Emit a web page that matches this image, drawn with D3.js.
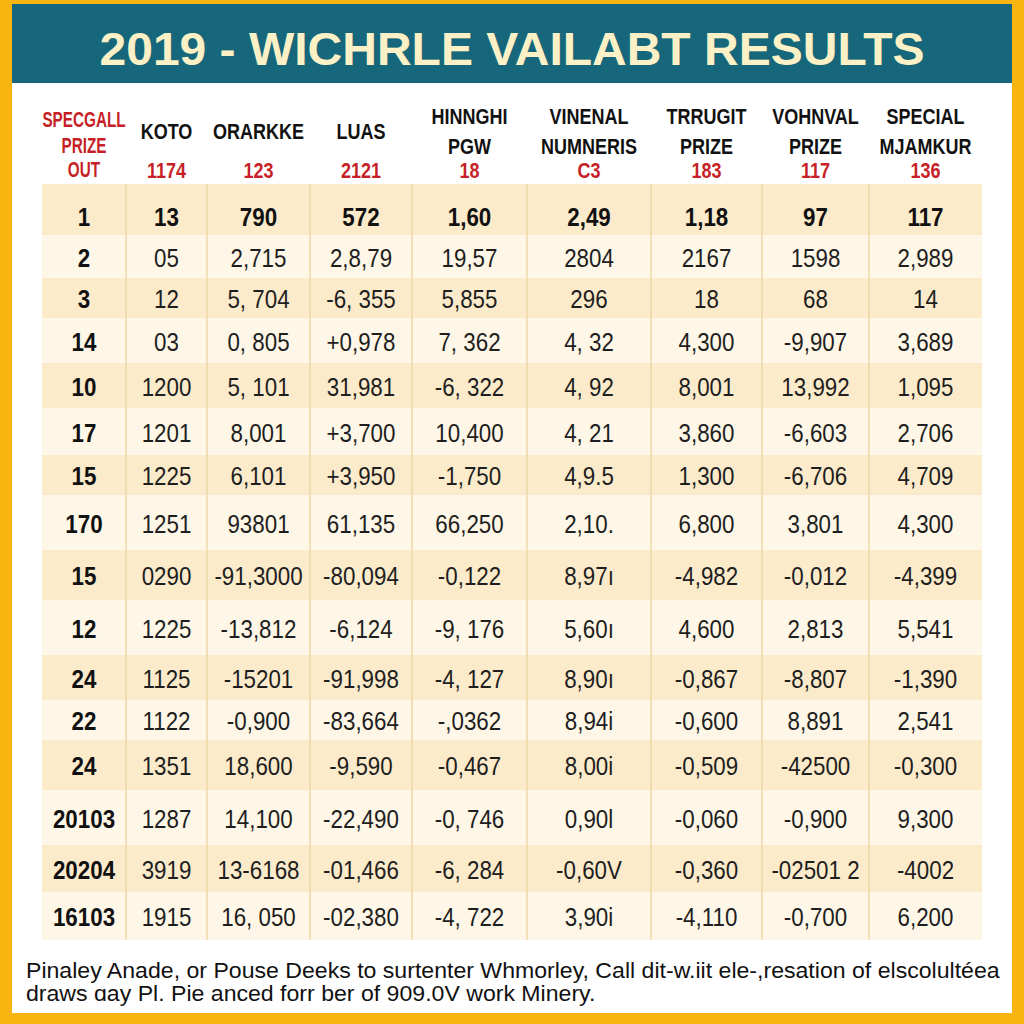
<!DOCTYPE html>
<html><head><meta charset="utf-8">
<script src="https://cdn.jsdelivr.net/npm/d3@7"></script>
<style>html,body{margin:0;padding:0;background:#fff}svg{display:block}</style>
</head><body>
<script>
// ---------- data ----------
const title = "2019 - WICHRLE VAILABT RESULTS";
const headerLines = [
  ["SPECGALL","PRIZE","OUT"],
  ["KOTO"],
  ["ORARKKE"],
  ["LUAS"],
  ["HINNGHI","PGW"],
  ["VINENAL","NUMNERIS"],
  ["TRRUGIT","PRIZE"],
  ["VOHNVAL","PRIZE"],
  ["SPECIAL","MJAMKUR"]
];
const headerCodes = ["", "1174", "123", "2121", "18", "C3", "183", "117", "136"];
const rowLabels = ["1","2","3","14","10","17","15","170","15","12","24","22","24","20103","20204","16103"];
const colKoto    = ["13","05","12","03","1200","1201","1225","1251","0290","1225","1125","1122","1351","1287","3919","1915"];
const colOrarkke = ["790","2,715","5, 704","0, 805","5, 101","8,001","6,101","93801","-91,3000","-13,812","-15201","-0,900","18,600","14,100","13-6168","16, 050"];
const colLuas    = ["572","2,8,79","-6, 355","+0,978","31,981","+3,700","+3,950","61,135","-80,094","-6,124","-91,998","-83,664","-9,590","-22,490","-01,466","-02,380"];
const colHinnghi = ["1,60","19,57","5,855","7, 362","-6, 322","10,400","-1,750","66,250","-0,122","-9, 176","-4, 127","-,0362","-0,467","-0, 746","-6, 284","-4, 722"];
const colVinenal = ["2,49","2804","296","4, 32","4, 92","4, 21","4,9.5","2,10.","8,97ı","5,60ı","8,90ı","8,94i","8,00i","0,90l","-0,60V","3,90i"];
const colTrrugit = ["1,18","2167","18","4,300","8,001","3,860","1,300","6,800","-4,982","4,600","-0,867","-0,600","-0,509","-0,060","-0,360","-4,110"];
const colVohnval = ["97","1598","68","-9,907","13,992","-6,603","-6,706","3,801","-0,012","2,813","-8,807","8,891","-42500","-0,900","-02501 2","-0,700"];
const colSpecial = ["117","2,989","14","3,689","1,095","2,706","4,709","4,300","-4,399","5,541","-1,390","2,541","-0,300","9,300","-4002","6,200"];
const footnote = [
  "Pinaley Anade, or Pouse Deeks to surtenter Whmorley, Call dit-w.iit ele-,resation of elscolultéea",
  "draws ɑay Pl. Pie anced forr ber of 909.0V work Minery."
];

// ---------- layout / style ----------
const W = 1024, H = 1024;
const colWeights = [84,81,103,102,115,124,111,107,113];
const rowWeights = [51,43,40,45,45,47,40,55,50,55,45,40,50,55,47,48];
const sans = "'Liberation Sans',Arial,Helvetica,sans-serif";
const bodyScale = 0.86, headScale = 0.8, firstHeadScale = 0.68;
const columns = [rowLabels, colKoto, colOrarkke, colLuas, colHinnghi, colVinenal, colTrrugit, colVohnval, colSpecial];
const rows = rowLabels.map((_, i) => columns.map(c => c[i]));

const svg = d3.select("body").append("svg").attr("width", W).attr("height", H);

// frame
svg.append("rect").attr("width", W).attr("height", H).attr("fill", "#F8B512");
svg.append("rect").attr("x", 12).attr("y", 83).attr("width", 1000).attr("height", 930).attr("fill", "#FFFFFF");
svg.append("rect").attr("x", 12).attr("y", 4).attr("width", 1000).attr("height", 79).attr("fill", "#16677B");

svg.append("text").attr("x", 512).attr("y", 65).attr("text-anchor", "middle")
  .attr("font-family", sans).attr("font-weight", "bold").attr("font-size", 46)
  .attr("fill", "#FCF1C6").attr("textLength", 825).attr("lengthAdjust", "spacingAndGlyphs")
  .text(title);

// scales
const cumX = d3.cumsum([0, ...colWeights]);
const cumY = d3.cumsum([0, ...rowWeights]);
const x = d3.scaleLinear().domain([0, cumX[cumX.length-1]]).range([42, 982]);
const y = d3.scaleLinear().domain([0, cumY[cumY.length-1]]).range([184, 940]);
const colCenter = i => (x(cumX[i]) + x(cumX[i+1])) / 2;

// row bands
svg.append("g").selectAll("rect").data(rows).join("rect")
  .attr("x", x(0)).attr("width", x(cumX[cumX.length-1]) - x(0))
  .attr("y", (d, i) => y(cumY[i])).attr("height", (d, i) => y(cumY[i+1]) - y(cumY[i]))
  .attr("fill", (d, i) => i % 2 === 0 ? "#FCEBCB" : "#FEF7E7");

// vertical grid lines
svg.append("g").selectAll("line").data(cumX.slice(1, -1)).join("line")
  .attr("x1", d => x(d)).attr("x2", d => x(d))
  .attr("y1", y(0)).attr("y2", y(cumY[cumY.length-1]))
  .attr("stroke", "#EDD7A8").attr("stroke-width", 1.5);

// header
const hdr = svg.append("g").attr("font-family", sans).attr("font-weight", "bold")
  .attr("font-size", 22.5).attr("text-anchor", "middle");
function hText(cx, cy, t, fill, s) {
  hdr.append("text").attr("transform", `translate(${cx},${cy}) scale(${s},1)`)
    .attr("fill", fill).text(t);
}
headerLines.forEach((lines, i) => {
  const cx = colCenter(i);
  const red = i === 0;
  const s = i === 0 ? firstHeadScale : headScale;
  let ys;
  if (lines.length === 3) ys = [127, 153, 177];
  else if (lines.length === 2) ys = [124, 154];
  else ys = [139];
  lines.forEach((t, j) => hText(cx, ys[j], t, red ? "#C61F27" : "#111111", s));
  if (headerCodes[i]) hText(cx, 178, headerCodes[i], "#C61F27", headScale);
});

// cells
const body = svg.append("g").attr("font-family", sans).attr("font-size", 26)
  .attr("text-anchor", "middle");
rows.forEach((r, i) => {
  const cy = (y(cumY[i]) + y(cumY[i+1])) / 2 + (i === 0 ? 7 : 1);
  body.selectAll(null).data(r).join("text")
    .attr("transform", (d, j) => `translate(${colCenter(j)},${cy}) scale(${bodyScale},1)`)
    .attr("dy", "0.35em")
    .attr("font-weight", (d, j) => (j === 0 || i === 0) ? "bold" : "normal")
    .attr("fill", (d, j) => (j === 0 || i === 0) ? "#111" : "#1E1E1E")
    .text(d => d);
});

// footnote
const fn = svg.append("g").attr("font-family", sans).attr("font-size", 22).attr("fill", "#111");
const fnTexts = fn.selectAll("text").data(footnote).join("text")
  .attr("transform", (d, i) => `translate(26,${978 + i * 23})`)
  .text(d => d);
const w0 = fnTexts.nodes()[0].getComputedTextLength();
const fs = 974 / w0;
fnTexts.attr("transform", (d, i) => `translate(26,${978 + i * 23}) scale(${fs},1)`);
</script>
</body></html>
